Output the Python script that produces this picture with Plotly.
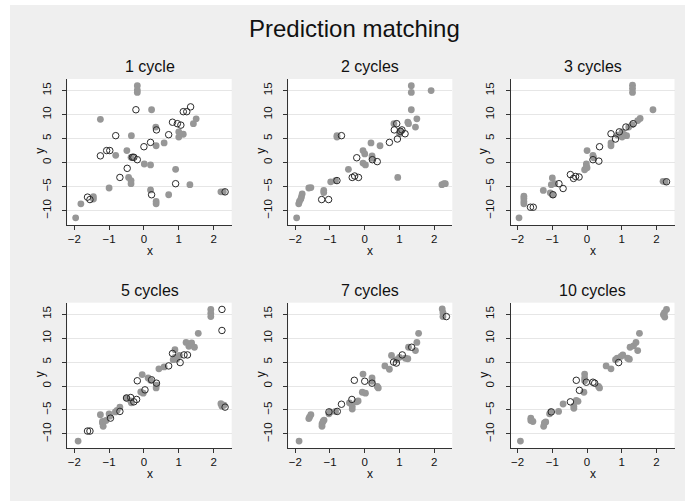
import plotly.graph_objects as go

W, H = 685, 501

panel_titles = ["1 cycle", "2 cycles", "3 cycles", "5 cycles", "7 cycles", "10 cycles"]

# ---- 1 cycle ----
x1_obs = [-1.96, -1.81, -1.45, -1.45, -1.25, -1.0, -0.81, -0.49, -0.36, -0.44, -0.37, -0.37, -0.37,
          -0.19, -0.19, -0.19, 0.01, 0.19, 0.19, 0.22, 0.34, 0.35, 0.35, 0.35, 0.58, 0.71, 0.91,
          1.0, 1.0, 1.13, 1.32, 1.42, 1.50, 2.21, 2.28]
y1_obs = [-11.5, -8.6, -7.1, -7.6, 9.0, -5.3, 1.5, 2.5, 5.6, -3.1, -3.75, -4.4, 1.1,
          16.0, 15.1, 14.6, -0.3, -0.5, -5.7, 11.0, 7.4, 3.5, -8.1, -8.6, 4.1, -6.7, -1.4,
          6.4, 5.3, 5.9, -4.6, 8.1, 9.1, -6.1, -6.1]
x1_imp = [-1.62, -1.55, -1.25, -1.07, -0.98, -0.81, -0.69, -0.48, -0.33, -0.29, -0.19, -0.23, 0.0,
          0.19, 0.22, 0.36, 0.71, 0.82, 0.96, 1.06, 0.91, 1.13, 1.23, 1.34, 2.33]
y1_imp = [-7.2, -7.7, 1.4, 2.5, 2.5, 5.6, -3.1, -1.2, 1.1, 1.1, 0.6, 11.0, 3.3,
          4.2, -6.7, 6.8, 5.8, 8.4, 8.1, 7.8, -4.4, 10.6, 10.6, 11.6, -6.1]

# ---- 2 cycles ----
x2_obs = [-1.96, -1.90, -1.88, -1.82, -1.80, -1.84, -1.61, -1.55, -1.18, -1.18, -0.98, -0.84, -0.80,
          -0.80, -0.47, -0.05, 0.0, -0.05, 0.02, 0.18, 0.21, 0.21, 0.44, 0.84, 0.95, 1.0, 1.02,
          1.24, 1.26, 1.34, 1.34, 1.34, 1.46, 1.50, 1.91, 2.22, 2.28, 2.32]
y2_obs = [-11.5, -8.6, -8.1, -7.1, -6.5, -7.6, -5.3, -5.2, -5.8, -6.25, -4.0, -3.75, 5.6,
          5.3, -1.4, 2.5, 1.8, -0.1, -0.5, 4.1, 1.4, 0.9, 3.5, 8.1, -3.1, 6.0, 6.6,
          8.4, 8.1, 16.0, 14.6, 11.0, 7.4, 9.1, 15.0, -4.6, -4.4, -4.4]
x2_imp = [-1.24, -1.04, -0.80, -0.67, -0.36, -0.29, -0.18, -0.23, 0.22, 0.36, 0.71, 0.85, 0.92,
          0.94, 1.03, 1.07, 1.16]
y2_imp = [-7.7, -7.7, -3.75, 5.6, -3.1, -2.8, -3.1, 1.0, 0.6, 0.2, 4.2, 6.8, 8.1,
          4.9, 6.5, 6.8, 6.0]

# ---- 3 cycles ----
x3_obs = [-1.96, -1.82, -1.82, -1.82, -1.82, -1.26, -1.0, -1.03, -0.93, -1.06, -1.0, 0.0, -0.02,
          -0.02, -0.07, 0.0, 0.17, 0.19, 0.69, 0.69, 0.88, 1.01, 1.07, 1.14, 1.01, 1.2, 1.3,
          1.31, 1.31, 1.31, 1.46, 1.53, 1.9, 2.19, 2.25]
y3_obs = [-11.5, -7.0, -7.5, -8.1, -8.6, -5.8, -3.2, -4.6, -4.4, -6.3, -6.7, 2.5, -0.3,
          -0.8, -1.5, -1.1, 1.5, 1.0, 4.1, 3.5, 5.7, 6.4, 5.8, 5.6, 5.3, 7.4, 7.9,
          16.1, 15.4, 14.6, 8.75, 9.2, 11.0, -3.9, -4.0]
x3_imp = [-1.63, -1.55, -0.81, -0.69, -0.98, -0.48, -0.39, -0.33, -0.23, 0.17, 0.34, 0.36, 0.69,
          0.82, 0.93, 1.12, 1.33, 2.29]
y3_imp = [-9.3, -9.3, -4.4, -5.4, -6.7, -2.5, -3.3, -2.9, -3.0, 0.6, 0.3, 3.3, 6.0,
          4.9, 6.4, 7.4, 8.1, -4.0]

# ---- 5 cycles ----
x5_obs = [-1.89, -1.25, -1.19, -1.17, -1.19, -1.09, -1.0, -0.98, -0.82, -0.77, -0.69, -0.5, -0.38,
          -0.36, -0.05, -0.09, -0.02, 0.12, 0.19, 0.35, 0.36, 0.43, 0.58, 0.89, 0.89, 0.94, 0.84,
          1.02, 1.21, 1.29, 1.37, 1.45, 1.56, 1.92, 1.92, 1.92, 2.21, 2.24, 2.30]
y5_obs = [-11.5, -6.0, -7.7, -8.4, -7.4, -7.2, -5.8, -6.3, -5.4, -5.1, -4.4, -2.5, -3.1,
          -3.5, 2.4, -1.25, -1.5, 1.7, 1.2, -0.4, 0.2, 3.6, 4.0, 7.6, 6.0, 5.6, 5.5,
          6.4, 9.1, 8.3, 9.0, 8.1, 11.0, 16.0, 15.2, 14.5, -3.7, -4.2, -4.0]
x5_imp = [-1.62, -1.55, -0.96, -0.69, -0.5, -0.38, -0.29, -0.21, -0.19, 0.03, 0.22, 0.36, 0.71,
          0.82, 1.04, 1.15, 1.25, 2.24, 2.24, 2.33]
y5_imp = [-9.4, -9.4, -6.7, -5.3, -2.5, -2.4, -3.3, -2.8, 1.1, -0.8, 1.3, 0.6, 4.2,
          6.8, 4.9, 6.5, 6.5, 16.0, 11.6, -4.4]

# ---- 7 cycles ----
x7_obs = [-1.89, -1.59, -1.55, -1.61, -1.23, -1.23, -1.2, -1.17, -1.03, -0.99, -0.84, -0.23, -0.19,
          -0.44, -0.36, -0.36, -0.05, -0.07, 0.02, 0.21, 0.21, 0.36, 0.39, 0.58, 0.71, 0.77, 0.92,
          1.0, 1.17, 1.24, 1.26, 1.46, 1.5, 1.55, 2.23, 2.25, 2.25]
y7_obs = [-11.5, -6.5, -6.0, -6.8, -8.4, -7.9, -7.4, -7.1, -5.8, -5.4, -5.3, -3.3, -3.1,
          -3.5, -4.2, -4.8, 2.5, -1.3, -1.5, 1.7, 1.0, -0.1, -0.4, 4.2, 3.5, 6.4, 5.5,
          6.0, 5.8, 5.7, 8.1, 7.4, 9.1, 11.0, 16.1, 15.3, 14.5]
x7_imp = [-1.03, -0.79, -0.67, -0.3, -0.37, 0.0, 0.21, 0.83, 0.91, 1.08, 1.35, 2.35]
y7_imp = [-5.4, -5.3, -3.8, 1.2, -2.8, 1.0, 0.6, 5.0, 4.8, 6.5, 8.1, 14.5]

# ---- 10 cycles ----
x10_obs = [-1.92, -1.62, -1.62, -1.56, -1.23, -1.25, -1.19, -1.08, -1.05, -0.82, -0.69, -0.38, -0.38,
           -0.31, -0.26, -0.07, -0.07, -0.07, -0.09, 0.33, 0.36, 0.55, 0.69, 0.82, 0.87, 0.98, 1.03,
           1.17, 1.22, 1.24, 1.34, 1.41, 1.46, 1.51, 2.2, 2.23, 2.29, 2.24]
y10_obs = [-11.5, -6.7, -7.2, -7.4, -7.7, -8.4, -7.5, -5.8, -5.4, -5.3, -3.75, -4.2, -4.65,
           -3.0, -3.2, 2.5, 1.7, 1.1, -1.3, -0.1, -0.4, 4.2, 3.6, 5.5, 5.8, 6.2, 6.5,
           5.8, 5.6, 8.1, 8.4, 9.1, 7.4, 11.0, 14.9, 15.3, 16.0, 14.4]
x10_imp = [-1.03, -0.31, -0.22, -0.48, -0.02, 0.17, 0.22, 0.91]
y10_imp = [-5.4, 1.2, -0.9, -3.3, 0.8, 0.8, 0.6, 4.9]

obs_x = [x1_obs, x2_obs, x3_obs, x5_obs, x7_obs, x10_obs]
obs_y = [y1_obs, y2_obs, y3_obs, y5_obs, y7_obs, y10_obs]
imp_x = [x1_imp, x2_imp, x3_imp, x5_imp, x7_imp, x10_imp]
imp_y = [y1_imp, y2_imp, y3_imp, y5_imp, y7_imp, y10_imp]

x_ticks = [-2, -1, 0, 1, 2]
y_ticks = [-10, -5, 0, 5, 10, 15]

# pixel geometry of plot areas
cols = [(67.3, 231.7), (288.3, 452.3), (510.7, 674.5)]
rows = [(79.0, 225.0), (302.7, 448.3)]

BG = "#efefef"
FONT = "Liberation Sans, Arial, Helvetica, sans-serif"

fig = go.Figure()
annotations = []

for i in range(6):
    r, c = divmod(i, 3)
    n = i + 1
    xa = "x" if n == 1 else f"x{n}"
    ya = "y" if n == 1 else f"y{n}"
    fig.add_trace(go.Scatter(
        x=obs_x[i], y=obs_y[i], mode="markers", xaxis=xa, yaxis=ya,
        marker=dict(symbol="circle", size=6.8, color="#979797", line=dict(width=0)),
        showlegend=False, hoverinfo="skip"))
    fig.add_trace(go.Scatter(
        x=imp_x[i], y=imp_y[i], mode="markers", xaxis=xa, yaxis=ya,
        marker=dict(symbol="circle-open", size=6.5, color="#2a2a2a", line=dict(width=1)),
        showlegend=False, hoverinfo="skip"))

    x0, x1 = cols[c]
    y0, y1 = rows[r]
    xdom = [x0 / W, x1 / W]
    ydom = [1 - y1 / H, 1 - y0 / H]
    kx = "xaxis" if n == 1 else f"xaxis{n}"
    ky = "yaxis" if n == 1 else f"yaxis{n}"
    fig.layout[kx] = dict(
        domain=xdom, anchor=ya, range=[-2.2, 2.52], tickvals=x_ticks,
        ticktext=["\u22122", "\u22121", "0", "1", "2"],
        showgrid=False, zeroline=False, showline=True, linecolor="#333333", linewidth=1,
        ticks="outside", ticklen=4, tickcolor="#333333", tickwidth=1,
        ticklabelstandoff=-1,
        tickfont=dict(family=FONT, size=11.5, color="#111111"),
        fixedrange=True)
    fig.layout[ky] = dict(
        domain=ydom, anchor=xa, range=[-13.0, 17.4], tickvals=y_ticks,
        ticktext=["\u221210", "\u22125", "0", "5", "10", "15"],
        showgrid=True, gridcolor="#e6e6e6", gridwidth=1, zeroline=False,
        showline=True, linecolor="#333333", linewidth=1,
        ticks="outside", ticklen=4, tickcolor="#333333", tickwidth=1, tickangle=-90,
        ticklabelstandoff=7,
        tickfont=dict(family=FONT, size=11.5, color="#111111"),
        fixedrange=True)

    annotations.append(dict(
        text=panel_titles[i], xref="paper", yref="paper",
        x=(x0 + x1) / 2 / W, y=1 - (y0 - 12.5) / H, xanchor="center", yanchor="middle",
        showarrow=False, font=dict(family=FONT, size=16, color="#111111")))
    annotations.append(dict(
        text="y", xref="paper", yref="paper", textangle=-90,
        x=(x0 - 27.5) / W, y=1 - ((y0 + y1) / 2 - 1) / H, xanchor="center", yanchor="middle",
        showarrow=False, font=dict(family=FONT, size=12, color="#111111")))
    annotations.append(dict(
        text="x", xref="paper", yref="paper",
        x=(x0 + x1) / 2 / W, y=1 - (y1 + 25.5) / H, xanchor="center", yanchor="middle",
        showarrow=False, font=dict(family=FONT, size=12, color="#111111")))

annotations.append(dict(
    text="Prediction matching", xref="paper", yref="paper",
    x=354 / W, y=1 - 28.5 / H, xanchor="center", yanchor="middle",
    showarrow=False, font=dict(family=FONT, size=24, color="#111111")))

shapes = [
    dict(type="rect", xref="paper", yref="paper", x0=0, x1=10 / W, y0=0, y1=1,
         fillcolor="white", line=dict(width=0), layer="below"),
    dict(type="rect", xref="paper", yref="paper", x0=0, x1=1, y0=1 - 5 / H, y1=1,
         fillcolor="white", line=dict(width=0), layer="below"),
]

fig.update_layout(
    width=W, height=H, autosize=False,
    margin=dict(l=0, r=0, t=0, b=0, pad=0),
    paper_bgcolor=BG, plot_bgcolor="white",
    annotations=annotations, shapes=shapes,
    font=dict(family=FONT),
)

fig.write_html(
    "out.html", config={"displayModeBar": False},
    post_script=("document.body.style.margin='0';"
                 "document.body.style.background='#efefef';"
                 "document.documentElement.style.background='#efefef';"))
